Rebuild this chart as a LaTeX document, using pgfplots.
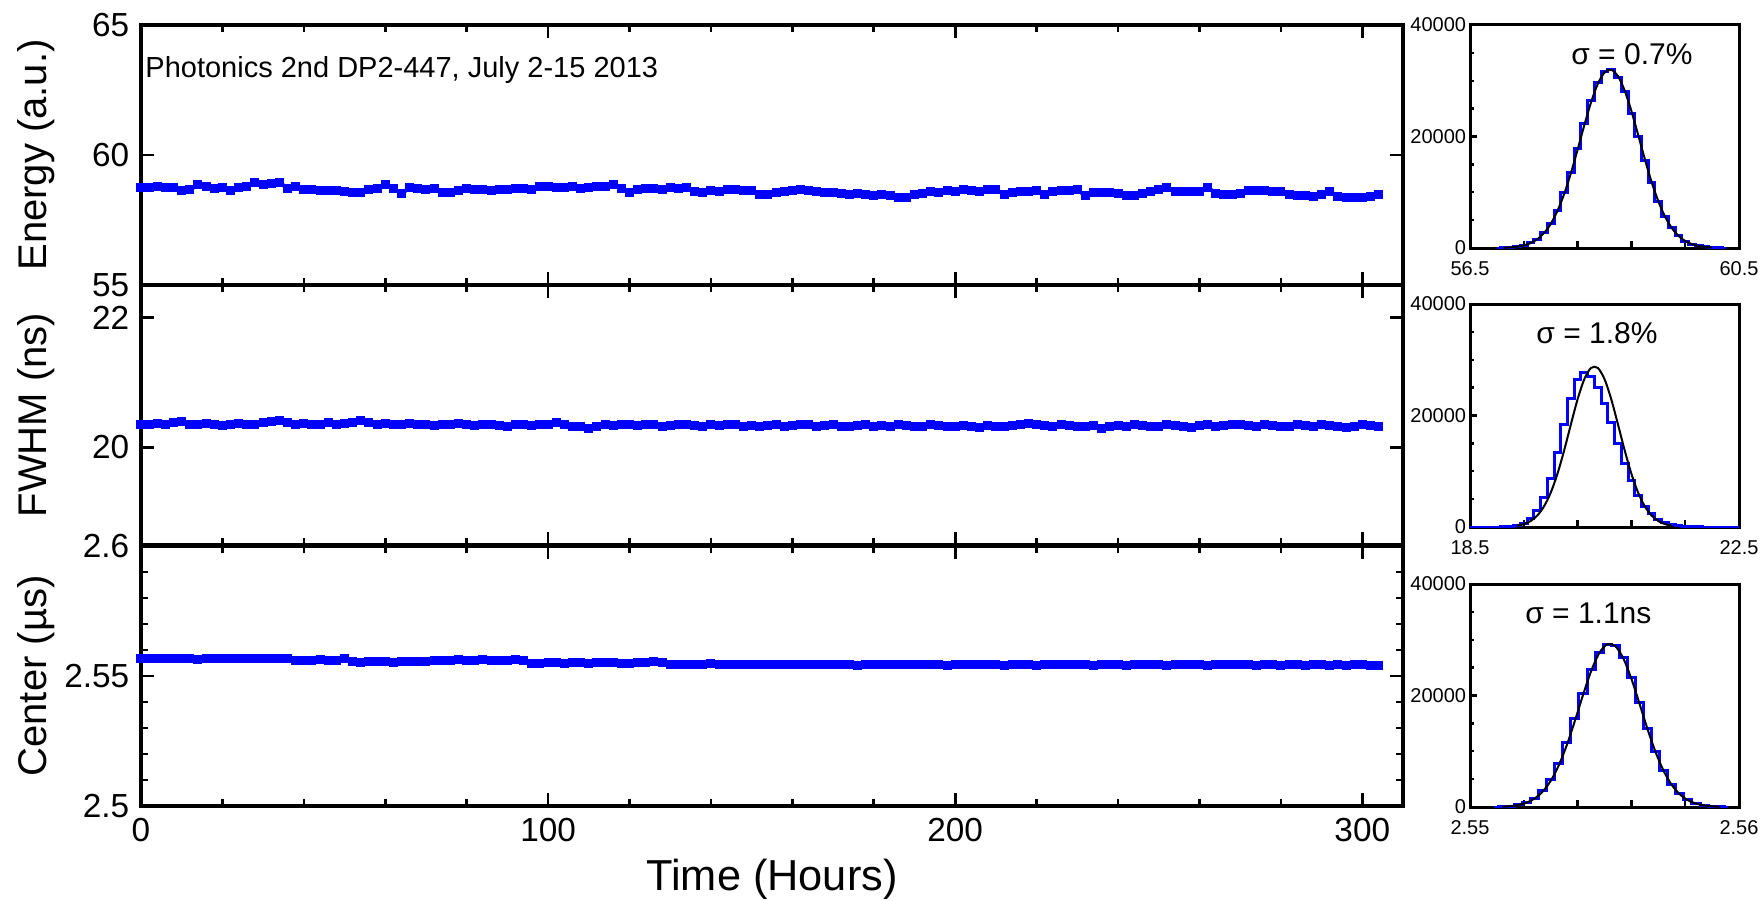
\documentclass[border=0pt]{standalone}
\usepackage{fontspec}
\setmainfont{Liberation Sans}
\usepackage{pgfplots}
\pgfplotsset{compat=1.18}

\definecolor{trace}{RGB}{0,0,255}

\pgfplotsset{
  strip/.style={
    scale only axis, width=378.6pt, height=78pt,
    xmin=0, xmax=310,
    xtick={0,100,200,300},
    minor xtick={20,40,60,80,120,140,160,180,220,240,260,280},
    tick align=inside,
    major tick length=3.9pt, minor tick length=2.1pt,
    axis line style={line width=1pt},
    every tick/.style={black, line width=0.8pt},
    tick label style={font=\fontsize{10}{12}\selectfont},
    /pgf/number format/assume math mode=true,
    /pgf/number format/1000 sep={},
    every axis y label/.style={at={(axis description cs:-0.0681,0.5)}, rotate=90,
      anchor=south, inner sep=0pt, font=\fontsize{12}{14}\selectfont},
  },
  series/.style={trace, line width=1.2pt, mark=square*, mark size=0.75pt,
    mark options={trace}},
  hist/.style={
    scale only axis, width=80.7pt, height=66.9pt,
    ymin=0, ymax=40000, ytick={0,20000,40000}, minor y tick num=3,
    tick align=inside, xtick pos=bottom, ytick pos=left,
    major tick length=2.2pt, minor tick length=1.3pt,
    axis line style={line width=0.9pt},
    every tick/.style={black, line width=0.7pt},
    tick label style={font=\fontsize{6}{7}\selectfont, inner sep=1pt},
    xticklabel style={yshift=-3pt},
    scaled y ticks=false,
    /pgf/number format/assume math mode=true,
    /pgf/number format/1000 sep={},
  },
  histbar/.style={trace, line width=0.9pt, const plot mark mid},
  fit/.style={black, line width=0.6pt, smooth},
}

\begin{document}
\begin{tikzpicture}
\useasboundingbox (0,0) rectangle (528pt,-270.3pt);

% ---- Energy vs time
\begin{axis}[strip, at={(42.3pt,-7.5pt)}, anchor=north west,
  ymin=55, ymax=65, ytick={55,60,65}, xticklabels={},
  ylabel={Energy (a.u.)}]
\addplot[series] coordinates {
(0,58.76)(2,58.75)(4,58.77)(6,58.74)(8,58.76)(10,58.62)(12,58.66)(14,58.86)(16,58.80)(18,58.72)
(20,58.76)(22,58.62)(24,58.74)(26,58.80)(28,58.94)(30,58.85)(32,58.92)(34,58.96)(36,58.70)(38,58.80)
(40,58.68)(42,58.66)(44,58.63)(46,58.65)(48,58.62)(50,58.60)(52,58.54)(54,58.56)(56,58.66)(58,58.72)
(60,58.86)(62,58.70)(64,58.52)(66,58.74)(68,58.70)(70,58.68)(72,58.71)(74,58.56)(76,58.54)(78,58.62)
(80,58.70)(82,58.68)(84,58.66)(86,58.64)(88,58.68)(90,58.66)(92,58.70)(94,58.72)(96,58.68)(98,58.80)
(100,58.78)(102,58.76)(104,58.74)(106,58.78)(108,58.72)(110,58.76)(112,58.80)(114,58.78)(116,58.86)(118,58.72)
(120,58.56)(122,58.66)(124,58.70)(126,58.72)(128,58.68)(130,58.74)(132,58.70)(134,58.76)(136,58.60)(138,58.56)
(140,58.62)(142,58.60)(144,58.68)(146,58.66)(148,58.62)(150,58.62)(152,58.50)(154,58.48)(156,58.56)(158,58.60)
(160,58.62)(162,58.66)(164,58.62)(166,58.58)(168,58.56)(170,58.54)(172,58.52)(174,58.50)(176,58.52)(178,58.48)
(180,58.46)(182,58.50)(184,58.44)(186,58.38)(188,58.36)(190,58.50)(192,58.52)(194,58.58)(196,58.56)(198,58.62)
(200,58.60)(202,58.66)(204,58.62)(206,58.60)(208,58.66)(210,58.68)(212,58.48)(214,58.54)(216,58.58)(218,58.60)
(220,58.62)(222,58.50)(224,58.58)(226,58.64)(228,58.62)(230,58.66)(232,58.44)(234,58.56)(236,58.54)(238,58.56)
(240,58.52)(242,58.44)(244,58.46)(246,58.52)(248,58.60)(250,58.66)(252,58.74)(254,58.60)(256,58.58)(258,58.60)
(260,58.58)(262,58.76)(264,58.52)(266,58.50)(268,58.48)(270,58.52)(272,58.62)(274,58.64)(276,58.62)(278,58.60)
(280,58.58)(282,58.48)(284,58.44)(286,58.46)(288,58.42)(290,58.48)(292,58.60)(294,58.42)(296,58.38)(298,58.36)
(300,58.38)(302,58.40)(304,58.48)
};
\node[anchor=base west, inner sep=0pt, font=\fontsize{8.7}{10}\selectfont]
  at (axis description cs:0.003,0.8) {Photonics 2nd DP2-447, July 2-15 2013};
\end{axis}

% ---- FWHM vs time
\begin{axis}[strip, at={(42.3pt,-85.5pt)}, anchor=north west,
  ymin=18.5, ymax=22.5, ytick={20,22}, xticklabels={},
  ylabel={FWHM (ns)}]
\addplot[series] coordinates {
(0,20.36)(2,20.35)(4,20.37)(6,20.36)(8,20.38)(10,20.40)(12,20.36)(14,20.35)(16,20.37)(18,20.36)
(20,20.34)(22,20.36)(24,20.37)(26,20.35)(28,20.36)(30,20.39)(32,20.40)(34,20.41)(36,20.38)(38,20.36)
(40,20.37)(42,20.35)(44,20.36)(46,20.38)(48,20.36)(50,20.37)(52,20.39)(54,20.42)(56,20.38)(58,20.36)
(60,20.37)(62,20.36)(64,20.35)(66,20.37)(68,20.36)(70,20.35)(72,20.34)(74,20.36)(76,20.35)(78,20.37)
(80,20.36)(82,20.34)(84,20.35)(86,20.36)(88,20.34)(90,20.33)(92,20.35)(94,20.36)(96,20.34)(98,20.35)
(100,20.36)(102,20.38)(104,20.35)(106,20.33)(108,20.32)(110,20.30)(112,20.33)(114,20.35)(116,20.34)(118,20.36)
(120,20.35)(122,20.34)(124,20.36)(126,20.35)(128,20.33)(130,20.34)(132,20.36)(134,20.35)(136,20.34)(138,20.33)
(140,20.35)(142,20.34)(144,20.36)(146,20.35)(148,20.33)(150,20.34)(152,20.32)(154,20.34)(156,20.35)(158,20.33)
(160,20.34)(162,20.36)(164,20.35)(166,20.33)(168,20.34)(170,20.35)(172,20.33)(174,20.32)(176,20.34)(178,20.35)
(180,20.33)(182,20.34)(184,20.33)(186,20.35)(188,20.34)(190,20.32)(192,20.33)(194,20.35)(196,20.34)(198,20.33)
(200,20.32)(202,20.34)(204,20.33)(206,20.31)(208,20.34)(210,20.33)(212,20.32)(214,20.34)(216,20.36)(218,20.37)
(220,20.35)(222,20.34)(224,20.33)(226,20.35)(228,20.34)(230,20.32)(232,20.33)(234,20.34)(236,20.30)(238,20.33)
(240,20.34)(242,20.33)(244,20.35)(246,20.34)(248,20.32)(250,20.33)(252,20.35)(254,20.34)(256,20.33)(258,20.31)
(260,20.34)(262,20.35)(264,20.33)(266,20.34)(268,20.36)(270,20.35)(272,20.34)(274,20.33)(276,20.35)(278,20.34)
(280,20.32)(282,20.33)(284,20.35)(286,20.34)(288,20.33)(290,20.35)(292,20.34)(294,20.33)(296,20.31)(298,20.33)
(300,20.35)(302,20.34)(304,20.33)
};
\end{axis}

% ---- Center vs time
\begin{axis}[strip, at={(42.3pt,-163.8pt)}, anchor=north west,
  ymin=2.5, ymax=2.6, ytick={2.5,2.55,2.6},
  minor ytick={2.51,2.52,2.53,2.54,2.56,2.57,2.58,2.59},
  yticklabel style={/pgf/number format/fixed, /pgf/number format/precision=2},
  ylabel={Center (µs)}, xlabel={Time (Hours)},
  every axis x label/.style={at={(axis description cs:0.5,-0.362)}, anchor=south,
    inner sep=0pt, font=\fontsize{13}{15}\selectfont}]
\addplot[series] coordinates {
(0,2.5567)(2,2.5566)(4,2.5568)(6,2.5567)(8,2.5566)(10,2.5568)(12,2.5567)(14,2.5565)(16,2.5567)(18,2.5568)
(20,2.5566)(22,2.5567)(24,2.5569)(26,2.5568)(28,2.5567)(30,2.5568)(32,2.5569)(34,2.5567)(36,2.5568)
(38,2.5561)(40,2.5559)(42,2.5560)(44,2.5562)(46,2.5561)(48,2.5558)(50,2.5567)
(52,2.5555)(54,2.5553)(56,2.5554)(58,2.5556)(60,2.5555)(62,2.5553)(64,2.5554)(66,2.5556)(68,2.5555)(70,2.5557)
(72,2.5560)(74,2.5561)(76,2.5559)(78,2.5562)(80,2.5560)(82,2.5561)(84,2.5563)(86,2.5560)(88,2.5559)(90,2.5561)
(92,2.5562)(94,2.5558)
(96,2.5549)(98,2.5550)(100,2.5552)(102,2.5551)(104,2.5549)(106,2.5553)(108,2.5552)(110,2.5550)(112,2.5551)(114,2.5553)
(116,2.5552)(118,2.5550)(120,2.5549)(122,2.5551)(124,2.5553)(126,2.5554)(128,2.5552)
(130,2.5546)(132,2.5545)(134,2.5543)(136,2.5544)(138,2.5546)(140,2.5547)(142,2.5545)(144,2.5544)(146,2.5543)(148,2.5545)
(150,2.5546)(152,2.5544)(154,2.5543)(156,2.5545)(158,2.5546)(160,2.5544)(162,2.5543)(164,2.5545)(166,2.5546)(168,2.5544)
(170,2.5543)(172,2.5545)(174,2.5544)(176,2.5542)(178,2.5544)(180,2.5545)(182,2.5543)(184,2.5544)(186,2.5546)(188,2.5545)
(190,2.5543)(192,2.5544)(194,2.5545)(196,2.5543)(198,2.5542)(200,2.5544)(202,2.5545)(204,2.5543)(206,2.5544)(208,2.5545)
(210,2.5543)(212,2.5542)(214,2.5544)(216,2.5545)(218,2.5543)(220,2.5541)(222,2.5543)(224,2.5544)(226,2.5546)(228,2.5545)
(230,2.5543)(232,2.5544)(234,2.5542)(236,2.5543)(238,2.5545)(240,2.5544)(242,2.5542)(244,2.5543)(246,2.5544)(248,2.5545)
(250,2.5543)(252,2.5542)(254,2.5544)(256,2.5543)(258,2.5545)(260,2.5544)(262,2.5542)(264,2.5543)(266,2.5545)(268,2.5546)
(270,2.5544)(272,2.5543)(274,2.5542)(276,2.5544)(278,2.5543)(280,2.5542)(282,2.5544)(284,2.5543)(286,2.5541)(288,2.5543)
(290,2.5544)(292,2.5542)(294,2.5543)(296,2.5542)(298,2.5544)(300,2.5543)(302,2.5541)(304,2.5542)
};
\end{axis}

% ---- Energy histogram
\begin{axis}[hist, at={(441pt,-7.5pt)}, anchor=north west,
  xmin=56.5, xmax=60.5, xtick={56.5,57.3,58.1,58.9,59.7,60.5},
  xticklabels={56.5,,,,,60.5}]
\addplot[histbar] coordinates {
(56.9,0)(57.0,60)(57.1,120)(57.2,250)(57.3,480)(57.4,900)(57.5,1600)(57.6,2750)(57.7,4400)(57.8,6800)
(57.9,9900)(58.0,13600)(58.1,17900)(58.2,22300)(58.3,26500)(58.4,29700)(58.5,31600)(58.6,32100)(58.7,30600)(58.8,28000)
(58.9,24200)(59.0,20000)(59.1,15700)(59.2,11700)(59.3,8300)(59.4,5600)(59.5,3600)(59.6,2200)(59.7,1250)(59.8,700)
(59.9,360)(60.0,180)(60.1,80)(60.2,30)(60.3,0)
};
\addplot[fit] coordinates {
(57.0,51)(57.1,112)(57.2,234)(57.3,465)(57.4,878)(57.5,1574)(57.6,2679)(57.7,4331)(57.8,6650)(57.9,9696)
(58.0,13424)(58.1,17651)(58.2,22039)(58.3,26135)(58.4,29430)(58.5,31476)(58.6,31968)(58.7,30832)(58.8,28240)(58.9,24563)
(59.0,20291)(59.1,15917)(59.2,11856)(59.3,8387)(59.4,5635)(59.5,3597)(59.6,2179)(59.7,1254)(59.8,685)(59.9,355)
(60.0,175)(60.1,82)
};
\node[anchor=base, font=\fontsize{9}{11}\selectfont] at (axis description cs:0.602,0.821) {σ = 0.7\%};
\end{axis}

% ---- FWHM histogram
\begin{axis}[hist, at={(441pt,-91.2pt)}, anchor=north west,
  xmin=18.5, xmax=22.5, xtick={18.5,19.3,20.1,20.9,21.7,22.5},
  xticklabels={18.5,,,,,22.5}]
\addplot[histbar] coordinates {
(18.5,0)(18.9,0)(19.0,37)(19.1,107)(19.2,281)(19.3,672)(19.4,1467)(19.5,2920)(19.6,5305)(19.7,8790)
(19.8,13288)(19.9,18323)(20.0,23052)(20.1,26457)(20.2,27700)(20.3,27024)(20.4,25097)(20.5,22180)(20.6,18659)(20.7,14942)
(20.8,11388)(20.9,8260)(21.0,5703)(21.1,3749)(21.2,2346)(21.3,1396)(21.4,791)(21.5,427)(21.6,219)(21.7,107)
(21.8,50)(21.9,20)(22.0,0)(22.5,0)
};
\addplot[fit] coordinates {
(19.2,230)(19.3,513)(19.4,1066)(19.5,2057)(19.6,3692)(19.7,6155)(19.8,9541)(19.9,13746)(20.0,18412)(20.1,22922)
(20.2,26528)(20.3,28538)(20.4,28538)(20.5,26528)(20.6,22922)(20.7,18412)(20.8,13746)(20.9,9541)(21.0,6155)(21.1,3692)
(21.2,2057)(21.3,1066)(21.4,513)(21.5,230)
};
\node[anchor=base, font=\fontsize{9}{11}\selectfont] at (axis description cs:0.472,0.825) {σ = 1.8\%};
\end{axis}

% ---- Center histogram
\begin{axis}[hist, at={(441pt,-175.2pt)}, anchor=north west,
  xmin=2.55, xmax=2.56, xtick={2.55,2.552,2.554,2.556,2.558,2.56},
  xticklabels={2.55,,,,,2.56}]
\addplot[histbar] coordinates {
(2.5509,0)(2.5512,80)(2.5515,180)(2.5518,400)(2.5521,820)(2.5524,1600)(2.5527,2900)(2.5530,4900)(2.5533,7800)(2.5536,11500)
(2.5539,15900)(2.5542,20400)(2.5545,24600)(2.5548,27700)(2.5551,29200)(2.5554,29000)(2.5557,26900)(2.5560,23300)(2.5563,18800)(2.5566,14100)
(2.5569,10000)(2.5572,6600)(2.5575,4100)(2.5578,2350)(2.5581,1280)(2.5584,640)(2.5587,300)(2.5590,130)(2.5593,55)(2.5596,0)
};
\addplot[fit] coordinates {
(2.5512,69)(2.5515,166)(2.5518,370)(2.5521,774)(2.5524,1512)(2.5527,2757)(2.5530,4700)(2.5533,7483)(2.5536,11131)(2.5539,15467)
(2.5542,20076)(2.5545,24345)(2.5548,27580)(2.5551,29189)(2.5554,28860)(2.5557,26657)(2.5560,23000)(2.5563,18544)(2.5566,13967)(2.5569,9828)
(2.5572,6458)(2.5575,3965)(2.5578,2274)(2.5581,1219)(2.5584,610)(2.5587,285)(2.5590,125)(2.5593,51)
};
\node[anchor=base, font=\fontsize{9}{11}\selectfont] at (axis description cs:0.44,0.825) {σ = 1.1ns};
\end{axis}
\end{tikzpicture}
\end{document}
